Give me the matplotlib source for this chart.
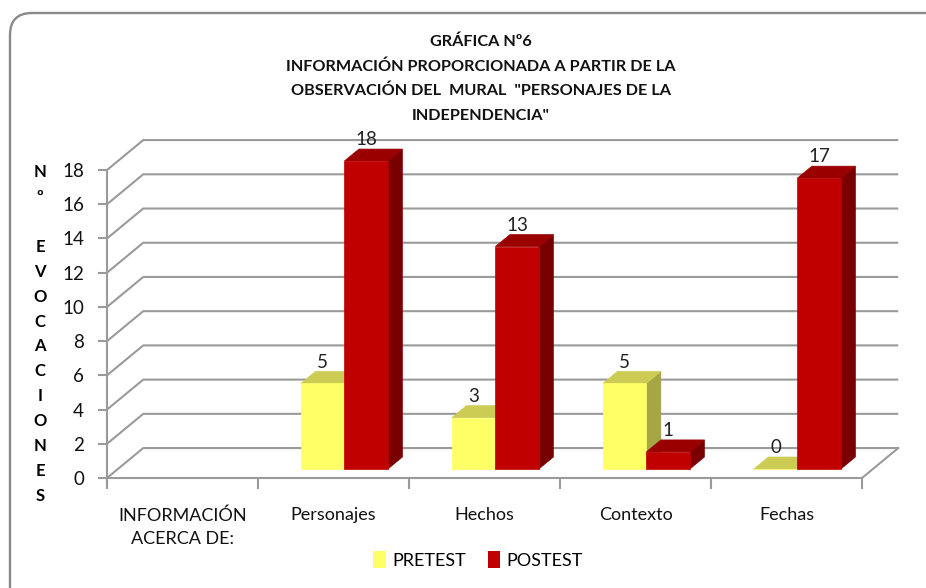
import matplotlib.pyplot as plt
from matplotlib.patches import Polygon, Patch, FancyBboxPatch
import numpy as np

# data
categorias = ['INFORMACIÓN\nACERCA DE:', 'Personajes', 'Hechos', 'Contexto', 'Fechas']
pretest = [None, 5, 3, 5, 0]
postest = [None, 18, 13, 1, 17]
yticks = list(range(0, 19, 2))
titulo = ['GRÁFICA Nº6',
          'INFORMACIÓN PROPORCIONADA A PARTIR DE LA',
          'OBSERVACIÓN DEL  MURAL  "PERSONAJES DE LA',
          'INDEPENDENCIA"']
ylabel = 'N\nº\n\nE\nV\nO\nC\nA\nC\nI\nO\nN\nE\nS'

# colours (front, top, side)
col_pre = ('#FFFF66', '#CCCC55', '#A6A645')
col_post = ('#C00000', '#9A0000', '#780000')
grid_col = '#9a9a9a'

plt.rcParams['font.family'] = ['Lato', 'DejaVu Sans']

W, H = 926, 588
fig = plt.figure(figsize=(W / 100, H / 100), dpi=100)

# pseudo 3d geometry, in data units
DX, DY = 0.24, 1.75       # depth of the floor / walls
f0, f1 = 0.3, 0.7         # bars sit between these fractions of the depth
bw = 0.288                # width of one bar

# axes placed so that x=0..5 -> 107..862 px, y=0..18 -> 478..170 px
px_x, px_y = 151.0, 17.11
xlim = (-0.05, 5.35)
ylim = (-0.35, 20.6)
left = 107 + xlim[0] * px_x
right = 107 + xlim[1] * px_x
bot = 478 - ylim[0] * px_y
top = 478 - ylim[1] * px_y
ax = fig.add_axes([left / W, 1 - bot / H, (right - left) / W, (bot - top) / H])
ax.set_xlim(*xlim)
ax.set_ylim(*ylim)
ax.patch.set_alpha(0)

n = len(categorias)

# walls: gridlines run from the front axis back, then along the back wall
for v in yticks:
    ax.plot([0, DX, n + DX], [v, v + DY, v + DY], color=grid_col, lw=1.5,
            zorder=1, solid_capstyle='butt')
# floor right edge
ax.plot([n, n + DX], [0, DY], color=grid_col, lw=1.5, zorder=1)

# spines / ticks
for s in ['top', 'right']:
    ax.spines[s].set_visible(False)
ax.spines['left'].set_position(('data', 0))
ax.spines['left'].set_bounds(ylim[0], 18)
ax.spines['bottom'].set_position(('data', 0))
ax.spines['bottom'].set_bounds(0, n)
for s in ['left', 'bottom']:
    ax.spines[s].set_color(grid_col)
    ax.spines[s].set_linewidth(1.5)
ax.set_yticks(yticks)
ax.tick_params(axis='y', direction='out', length=6.5, width=1.5, color=grid_col,
               labelsize=13.5, pad=10, labelcolor='#111111')
ax.set_xticks(range(n + 1))
ax.set_xticklabels([])
ax.set_xticks(np.arange(n) + 0.5, minor=True)
ax.set_xticklabels(categorias, minor=True, fontsize=13, color='#111111',
                   linespacing=1.55)
ax.tick_params(axis='x', which='major', direction='out', length=8, width=1.5,
               color=grid_col)
ax.tick_params(axis='x', which='minor', length=0, pad=21)


def bar3d(x0, v, cols):
    b = f0 * DY
    ddx, ddy = (f1 - f0) * DX, (f1 - f0) * DY
    front = [(x0, b), (x0 + bw, b), (x0 + bw, b + v), (x0, b + v)]
    topf = [(x0, b + v), (x0 + bw, b + v), (x0 + bw + ddx, b + v + ddy),
            (x0 + ddx, b + v + ddy)]
    side = [(x0 + bw, b), (x0 + bw + ddx, b + ddy), (x0 + bw + ddx, b + v + ddy),
            (x0 + bw, b + v)]
    for poly, c in [(side, cols[2]), (topf, cols[1]), (front, cols[0])]:
        ax.add_patch(Polygon(poly, closed=True, fc=c, ec=c, lw=0.5, zorder=3))
    ax.text(x0 + bw / 2, b + v + 0.75, str(v), ha='center', va='bottom',
            fontsize=13.5, color='#222222', zorder=5)


for i in range(n):
    if pretest[i] is None:
        continue
    c = i + 0.5 + f0 * DX
    bar3d(c - bw, pretest[i], col_pre)
    bar3d(c, postest[i], col_post)

# y label as stacked letters
fig.text(40 / W, 1 - 334 / H, ylabel, ha='center', va='center', fontsize=12,
         fontweight='bold', linespacing=1.69)

# title
for k, t in enumerate(titulo):
    fig.text(481 / W, 1 - (42 + 24.5 * k) / H, t, ha='center', va='center',
             fontsize=11.7, fontweight='bold', color='#111111')

# legend
handles = [Patch(fc=col_pre[0], ec='none', label='PRETEST'),
           Patch(fc=col_post[0], ec='none', label='POSTEST')]
fig.legend(handles=handles, loc='center', bbox_to_anchor=(478 / W, 1 - 560 / H),
           ncol=2, frameon=False, fontsize=13, handlelength=0.7,
           handleheight=1.1, handletextpad=0.35, columnspacing=1.2)

# rounded chart frame
frame = FancyBboxPatch((0.10, -0.3), 9.5, 6.05,
                       boxstyle='round,pad=0,rounding_size=0.22',
                       transform=fig.dpi_scale_trans, fc='none', ec='#8a8a8a',
                       lw=1.7, zorder=0)
fig.patches.append(frame)

plt.savefig('out.png', dpi=100)
